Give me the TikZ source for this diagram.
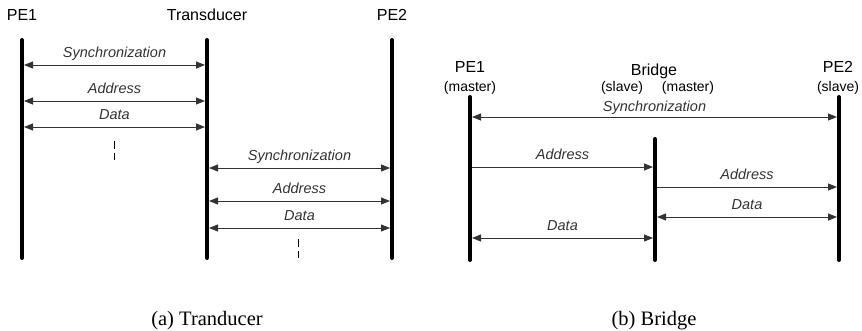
\documentclass[tikz,border=0pt]{standalone}
\usepackage{fontspec}
\setmainfont{Liberation Serif}
\setsansfont{Liberation Sans}
\usetikzlibrary{arrows.meta}
\begin{document}
\begin{tikzpicture}[x=1pt,y=-1pt,
  life/.style={line width=4pt,line cap=round},
  msg/.style={line width=0.9pt,black!80,shorten <=2pt,shorten >=2pt},
  bi/.style={msg,{Triangle[length=9pt,width=7pt]}-{Triangle[length=9pt,width=7pt]}},
  uni/.style={msg,-{Triangle[length=9pt,width=7pt]}},
  lbl/.style={font=\sffamily\itshape\fontsize{14.5}{16}\selectfont,anchor=base,inner sep=0pt,yshift=7pt},
  head/.style={font=\sffamily\fontsize{16}{18}\selectfont,anchor=base,inner sep=0pt},
  role/.style={font=\sffamily\fontsize{14}{16}\selectfont,anchor=base,inner sep=0pt},
  captxt/.style={font=\fontsize{20.5}{22}\selectfont,anchor=base,inner sep=0pt},
  gap/.style={line width=0.8pt,dash pattern=on 8pt off 4pt}]
\useasboundingbox (0,0) rectangle (862,331);
% ---------- (a) Transducer ----------
\coordinate (ap1t) at (22,40);  \coordinate (ap1b) at (22,258);
\coordinate (att)  at (207,40); \coordinate (atb)  at (207,258);
\coordinate (ap2t) at (392,40); \coordinate (ap2b) at (392,258);
\draw[life] (ap1t) -- (ap1b);
\draw[life] (att) -- (atb);
\draw[life] (ap2t) -- (ap2b);
\node[head] (hap1) at (22,21) {PE1};
\node[head] (hat) at (207,21) {Transducer};
\node[head] (hap2) at (392,21) {PE2};
\coordinate (y1) at (0,65); \coordinate (y2) at (0,101); \coordinate (y3) at (0,127);
\coordinate (y4) at (0,168); \coordinate (y5) at (0,201); \coordinate (y6) at (0,228);
\draw[bi] (ap1t |- y1) -- node[lbl] {Synchronization} (att |- y1);
\draw[bi] (ap1t |- y2) -- node[lbl] {Address} (att |- y2);
\draw[bi] (ap1t |- y3) -- node[lbl] {Data} (att |- y3);
\coordinate (ad1) at (114,141); \coordinate (ad2) at (114,160);
\draw[gap] (ad1) -- (ad2);
\draw[bi] (att |- y4) -- node[lbl] {Synchronization} (ap2t |- y4);
\draw[bi] (att |- y5) -- node[lbl] {Address} (ap2t |- y5);
\draw[bi] (att |- y6) -- node[lbl] {Data} (ap2t |- y6);
\coordinate (ad3) at (298,239); \coordinate (ad4) at (298,258);
\draw[gap] (ad3) -- (ad4);
\node[captxt] (capa) at (207,325) {(a) Tranducer};
% ---------- (b) Bridge ----------
\coordinate (bp1t) at (470,97);  \coordinate (bp1b) at (470,260);
\coordinate (bbt)  at (655,139); \coordinate (bbb)  at (655,260);
\coordinate (bp2t) at (839,97);  \coordinate (bp2b) at (839,260);
\draw[life] (bp1t) -- (bp1b);
\draw[life] (bbt) -- (bbb);
\draw[life] (bp2t) -- (bp2b);
\node[head] (hbp1) at (470,73) {PE1};
\node[role] (rbp1) at (470,92) {(master)};
\node[head] (hbb) at (654,76) {Bridge};
\node[role] (rbs) at (622,92) {(slave)};
\node[role] (rbm) at (688,92) {(master)};
\node[head] (hbp2) at (838,73) {PE2};
\node[role] (rbp2) at (838,92) {(slave)};
\coordinate (z1) at (0,117); \coordinate (z2) at (0,167); \coordinate (z3) at (0,187);
\coordinate (z4) at (0,217); \coordinate (z5) at (0,238);
\draw[bi] (bp1t |- z1) -- node[lbl,yshift=-2pt] {Synchronization} (bp2t |- z1);
\draw[uni] (bp1t |- z2) -- node[lbl] {Address} (bbt |- z2);
\draw[uni] (bbt |- z3) -- node[lbl] {Address} (bp2t |- z3);
\draw[bi] (bbt |- z4) -- node[lbl] {Data} (bp2t |- z4);
\draw[bi] (bp1t |- z5) -- node[lbl] {Data} (bbt |- z5);
\node[captxt] (capb) at (654,325) {(b) Bridge};
\end{tikzpicture}
\end{document}
